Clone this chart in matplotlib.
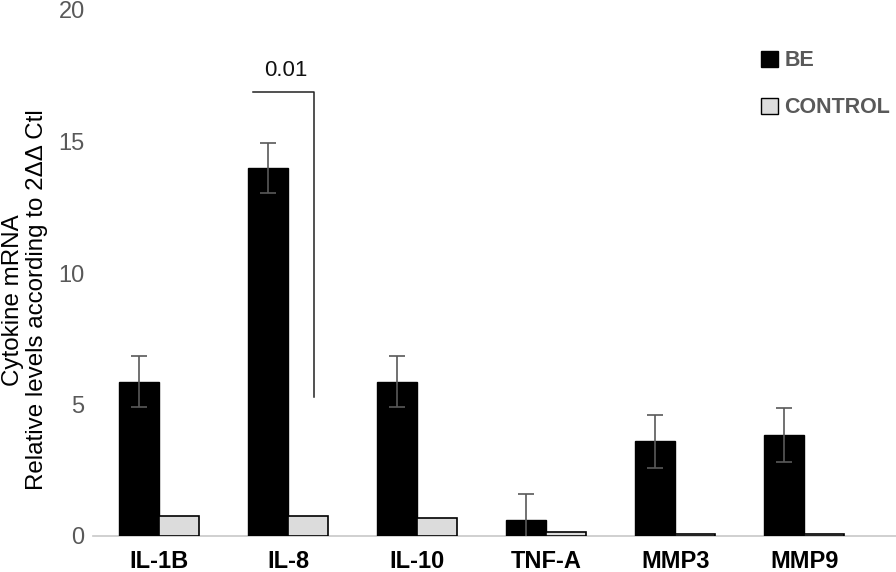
import matplotlib.pyplot as plt
import numpy as np

plt.rcParams['font.family'] = ['Liberation Sans', 'DejaVu Sans']

# data
genes = ['IL-1B', 'IL-8', 'IL-10', 'TNF-A', 'MMP3', 'MMP9']
be = [5.87, 14.0, 5.87, 0.6, 3.6, 3.83]
be_err = [0.98, 0.95, 0.98, 1.0, 1.0, 1.02]
control = [0.75, 0.75, 0.68, 0.15, 0.06, 0.06]
p_label = '0.01'

fig = plt.figure(figsize=(8.96, 5.72), dpi=100)
ax = fig.add_axes([93 / 896, 36 / 572, 803 / 896, 526 / 572])

x = np.arange(len(genes))
w = 0.31

# BE bars with error bars
ax.bar(x - w / 2, be, width=w, color='black', edgecolor='black', linewidth=1, zorder=3)
ax.errorbar(x - w / 2, be, yerr=be_err, fmt='none', ecolor='#595959',
            elinewidth=1.2, capsize=6, capthick=1.2, zorder=4)

# control bars
ax.bar(x + w / 2, control, width=w, color='#dcdcdc', edgecolor='black', linewidth=1.2, zorder=3)

# significance bracket over IL-8
ax.plot([x[1] - 0.27, x[1] + 0.2, x[1] + 0.2], [16.9, 16.9, 5.3], color='#222222', lw=1.1, zorder=5)
ax.text(x[1] - 0.02, 17.3, p_label, ha='center', va='bottom', fontsize=16, color='#111111')

ax.set_xlim(-0.51, 5.71)
ax.set_ylim(0, 20)
ax.set_yticks([0, 5, 10, 15, 20])
ax.set_xticks(x)
ax.set_xticklabels(genes, fontsize=17, fontweight='bold')
ax.tick_params(axis='x', length=0, pad=10)
ax.tick_params(axis='y', length=0, pad=6, labelsize=17, labelcolor='#595959')

for s in ['top', 'right', 'left']:
    ax.spines[s].set_visible(False)
ax.spines['bottom'].set_color('#c8c8c8')
ax.spines['bottom'].set_linewidth(1.2)

fig.text(25 / 896, 272 / 572, 'Cytokine mRNA\nRelative levels according to 2\u0394\u0394 Ctl',
         rotation=90, ha='center', va='center', fontsize=17.4, linespacing=1.1,
         multialignment='center')

# legend drawn in the top right corner
ax.legend(handles=[plt.Rectangle((0, 0), 1, 1, fc='black', ec='black'),
                   plt.Rectangle((0, 0), 1, 1, fc='#dcdcdc', ec='black')],
          labels=['BE', 'CONTROL'], loc='upper right', bbox_to_anchor=(1.017, 0.96),
          frameon=False, handlelength=0.8, handleheight=0.8, handletextpad=0.3,
          labelspacing=1.2, prop={'weight': 'bold', 'size': 15.5}, labelcolor='#595959')

fig.savefig('out.png', dpi=100)
